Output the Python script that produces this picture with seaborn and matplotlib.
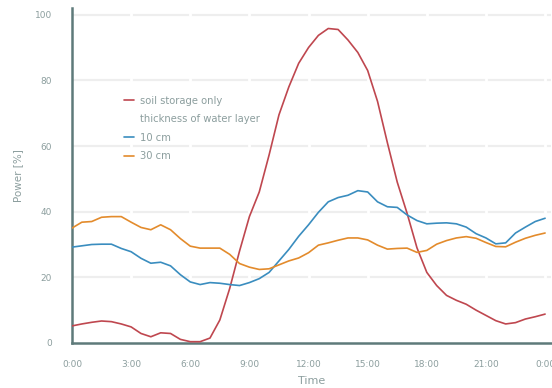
import numpy as np
import pandas as pd
import seaborn as sns
import matplotlib.pyplot as plt
from matplotlib.lines import Line2D

# time of day in hours, half-hour steps
hours = np.arange(0, 24.5, 0.5)

soil_only = [5.2, 5.8, 6.3, 6.7, 6.5, 5.8, 4.9, 2.9, 1.9, 3.1,
             2.9, 1.1, 0.4, 0.4, 1.5, 7.0, 16.6, 28.0, 38.5, 46.0,
             57.3, 69.5, 78.0, 85.2, 90.0, 93.7, 95.8, 95.5, 92.3, 88.5,
             83.0, 73.6, 61.0, 49.0, 39.5, 29.0, 21.5, 17.5, 14.5, 13.0,
             11.8, 10.0, 8.4, 6.8, 5.8, 6.2, 7.3, 8.0, 8.8]

water_10cm = [29.2, 29.6, 30.0, 30.1, 30.1, 28.8, 27.8, 25.8, 24.3, 24.6,
              23.5, 20.8, 18.6, 17.8, 18.4, 18.2, 17.8, 17.5, 18.4, 19.6,
              21.5, 25.0, 28.5, 32.5, 36.0, 39.8, 43.0, 44.3, 45.0, 46.4,
              46.0, 43.0, 41.5, 41.3, 39.0, 37.3, 36.3, 36.5, 36.6, 36.3,
              35.3, 33.3, 32.0, 30.2, 30.5, 33.5, 35.3, 37.0, 38.0]

water_30cm = [35.0, 36.8, 37.0, 38.3, 38.5, 38.5, 36.8, 35.2, 34.5, 36.0,
              34.5, 31.8, 29.5, 28.9, 28.9, 28.9, 27.0, 24.2, 23.1, 22.4,
              22.6, 23.8, 25.0, 25.9, 27.5, 29.8, 30.5, 31.3, 32.0, 32.0,
              31.4, 29.8, 28.6, 28.8, 28.9, 27.6, 28.2, 30.1, 31.2, 32.0,
              32.4, 31.9, 30.6, 29.4, 29.3, 30.7, 31.9, 32.8, 33.5]

series_names = ['soil storage only', '10 cm', '30 cm']
series_colors = ['#bf474f', '#3a8dbf', '#e38b2c']

x_ticks = np.arange(0, 25, 3)
x_labels = ['0:00', '3:00', '6:00', '9:00', '12:00', '15:00', '18:00', '21:00', '0:00']
y_ticks = np.arange(0, 101, 20)

df = pd.DataFrame({'hours': np.tile(hours, 3),
                   'power': soil_only + water_10cm + water_30cm,
                   'series': np.repeat(series_names, len(hours))})

sns.set_theme(style='white')
plt.rcParams['font.family'] = ['DejaVu Sans']
text_col = '#8c9e9e'
spine_col = '#5e7a7a'

fig = plt.figure(figsize=(5.52, 3.88), dpi=100)
ax = fig.add_axes([0.1304, 0.116, 0.8678, 0.863])

# gray horizontal grid, white vertical grid cutting through it
for y in y_ticks[1:]:
    ax.axhline(y, color='#eeeeee', lw=1.6, zorder=0.5)
for x in x_ticks[1:]:
    ax.axvline(x, color='white', lw=2.0, zorder=0.6)

sns.lineplot(data=df, x='hours', y='power', hue='series',
             palette=dict(zip(series_names, series_colors)),
             linewidth=1.2, legend=False, ax=ax, zorder=2)

ax.set_xlim(0, 24.3)
ax.set_ylim(0, 102)
ax.set_xticks(x_ticks)
ax.set_xticklabels(x_labels)
ax.set_yticks(y_ticks)

for s in ['top', 'right']:
    ax.spines[s].set_visible(False)
for s in ['left', 'bottom']:
    ax.spines[s].set_color(spine_col)
    ax.spines[s].set_linewidth(1.8)
    ax.spines[s].set_zorder(1)

# white tick marks cut small gaps into the spines
ax.xaxis.set_zorder(3)
ax.yaxis.set_zorder(3)
ax.tick_params(axis='both', direction='inout', length=5, width=1.8,
               color='white', labelcolor=text_col, labelsize=6.5)
ax.tick_params(axis='y', pad=12)
ax.tick_params(axis='x', pad=10)

ax.set_xlabel('Time', color=text_col, fontsize=8, labelpad=5)
ax.set_ylabel('Power [%]', color=text_col, fontsize=7.5, labelpad=8)

handles = [Line2D([], [], color=series_colors[0], lw=1.2),
           Line2D([], [], color='none'),
           Line2D([], [], color=series_colors[1], lw=1.2),
           Line2D([], [], color=series_colors[2], lw=1.2)]
labels = ['soil storage only', 'thickness of water layer', '10 cm', '30 cm']
ax.legend(handles, labels, loc='upper left', bbox_to_anchor=(0.09, 0.765),
          frameon=False, fontsize=7.2, handlelength=1.0,
          handletextpad=0.55, labelspacing=0.85, labelcolor=text_col)

fig.savefig('out.png', dpi=100)
